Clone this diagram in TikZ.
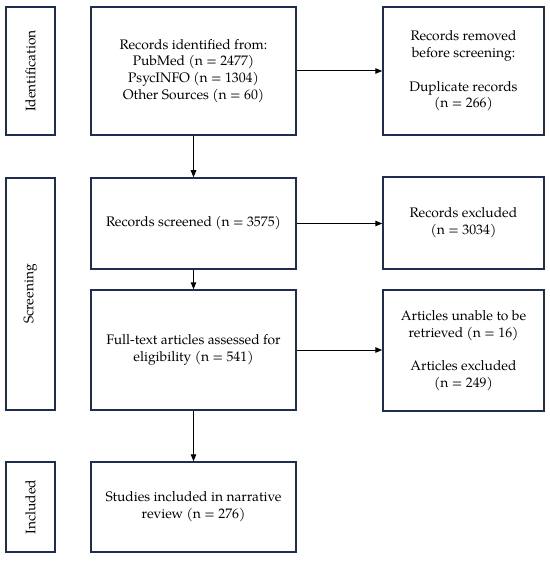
\documentclass[tikz,border=0pt]{standalone}
\usepackage{fontspec}
\setmainfont{TeX Gyre Pagella}
\usetikzlibrary{arrows.meta}
\definecolor{boxline}{RGB}{31,45,80}
\tikzset{
  txt/.style={font=\fontsize{13.8bp}{16.7bp}\selectfont, text=black},
  box/.style={txt, draw=boxline, line width=1.5bp, align=center, inner sep=2bp},
  phase/.style={box, minimum width=49bp},
  flow/.style={draw=black, line width=1bp, -{Triangle[length=7bp,width=5.5bp]}}
}
\begin{document}
\begin{tikzpicture}[x=1bp, y=-1bp]
\useasboundingbox (0,0) rectangle (550,561);
% phase boxes
\node[phase, minimum height=128bp] (pid) at (30.5,71) {};
\node[txt, rotate=90] (tid) at (pid.center) {Identification};
\node[phase, minimum height=232bp] (psc) at (30.5,294) {};
\node[txt, rotate=90] (tsc) at (psc.center) {Screening};
\node[phase, minimum height=90bp] (pin) at (30.5,507) {};
\node[txt, rotate=90] (tin) at (pin.center) {Included};
% main column
\node[box, minimum width=205bp, minimum height=128bp] (b1) at (193.5,71)
  {Records identified from:\\PubMed (n = 2477)\\PsycINFO (n = 1304)\\Other Sources (n = 60)};
\node[box, minimum width=205bp, minimum height=91bp] (b2) at (193.5,223.5)
  {Records screened (n = 3575)};
\node[box, minimum width=205bp, minimum height=120bp] (b3) at (193.5,350)
  {Full-text articles assessed for\\eligibility (n = 541)};
\node[box, minimum width=205bp, minimum height=90bp] (b4) at (193.5,507)
  {Studies included in narrative\\review (n = 276)};
% right column
\node[box, minimum width=161bp, minimum height=128bp] (r1) at (463.5,71)
  {Records removed\\before screening:\\[16.7bp]Duplicate records\\(n = 266)};
\node[box, minimum width=161bp, minimum height=92bp] (r2) at (463.5,223)
  {Records excluded\\(n = 3034)};
\node[box, minimum width=161bp, minimum height=121bp] (r3) at (463.5,350.5)
  {Articles unable to be\\retrieved (n = 16)\\[16.7bp]Articles excluded\\(n = 249)};
% connectors
\draw[flow] (b1) -- (b2);
\draw[flow] (b2) -- (b3);
\draw[flow] (b3) -- (b4);
\draw[flow] (b1) -- (r1);
\draw[flow] (b2) -- (b2 -| r2.west);
\draw[flow] (b3) -- (b3 -| r3.west);
\end{tikzpicture}
\end{document}
